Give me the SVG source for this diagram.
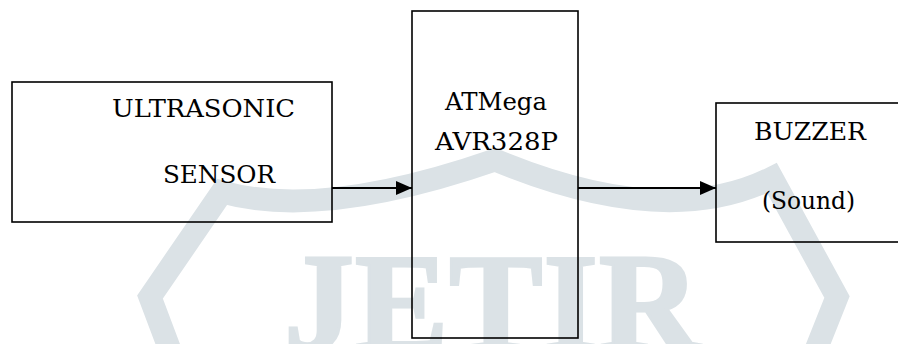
<svg xmlns="http://www.w3.org/2000/svg" width="898" height="344" viewBox="0 0 898 344">
  <style>
    .box { fill: none; stroke: #000; stroke-width: 1.6; }
    .lbl { font-family: 'DejaVu Serif', serif; font-size: 25px; fill: #000; }
    .wm { fill: none; stroke: #dbe2e6; stroke-width: 23; stroke-linejoin: miter; }
    .wmtext { font-family: 'Liberation Serif', 'Times New Roman', serif; font-weight: bold; font-size: 140px; fill: #dbe2e6; stroke: #dbe2e6; stroke-width: 3; }
    .conn { stroke: #000; stroke-width: 2; fill: none; }
  </style>
  <defs>
    <marker id="arrow" markerUnits="userSpaceOnUse" markerWidth="16" markerHeight="14" refX="16" refY="7" orient="auto">
      <path d="M0,0 L16,7 L0,14 Z" fill="#000"/>
    </marker>
  </defs>
  <rect width="898" height="344" fill="#fff"/>
  <g id="watermark">
    <path class="wm" d="M185,390 L150,297 L222,192 Q322,220 495,160 Q666,231 772,178 L837,297 L800,390"/>
    <text class="wmtext" x="284" y="350" textLength="416" lengthAdjust="spacing">JETIR</text>
  </g>
  <g id="connectors">
    <line class="conn" x1="332" y1="188" x2="412" y2="188" marker-end="url(#arrow)"/>
    <line class="conn" x1="578" y1="188" x2="716" y2="188" marker-end="url(#arrow)"/>
  </g>
  <g id="sensor">
    <rect class="box" x="12" y="82" width="320" height="140"/>
    <text class="lbl" x="112" y="117" textLength="183" lengthAdjust="spacingAndGlyphs">ULTRASONIC</text>
    <text class="lbl" x="163" y="183" textLength="112" lengthAdjust="spacingAndGlyphs">SENSOR</text>
  </g>
  <g id="mcu">
    <rect class="box" x="412" y="11" width="166" height="327"/>
    <text class="lbl" x="445" y="110" textLength="102" lengthAdjust="spacingAndGlyphs">ATMega</text>
    <text class="lbl" x="435" y="150" textLength="123" lengthAdjust="spacingAndGlyphs">AVR328P</text>
  </g>
  <g id="buzzer">
    <rect class="box" x="716" y="103" width="200" height="139"/>
    <text class="lbl" x="754" y="140" textLength="112" lengthAdjust="spacingAndGlyphs">BUZZER</text>
    <text class="lbl" x="762" y="209" textLength="93" lengthAdjust="spacingAndGlyphs">(Sound)</text>
  </g>
</svg>
